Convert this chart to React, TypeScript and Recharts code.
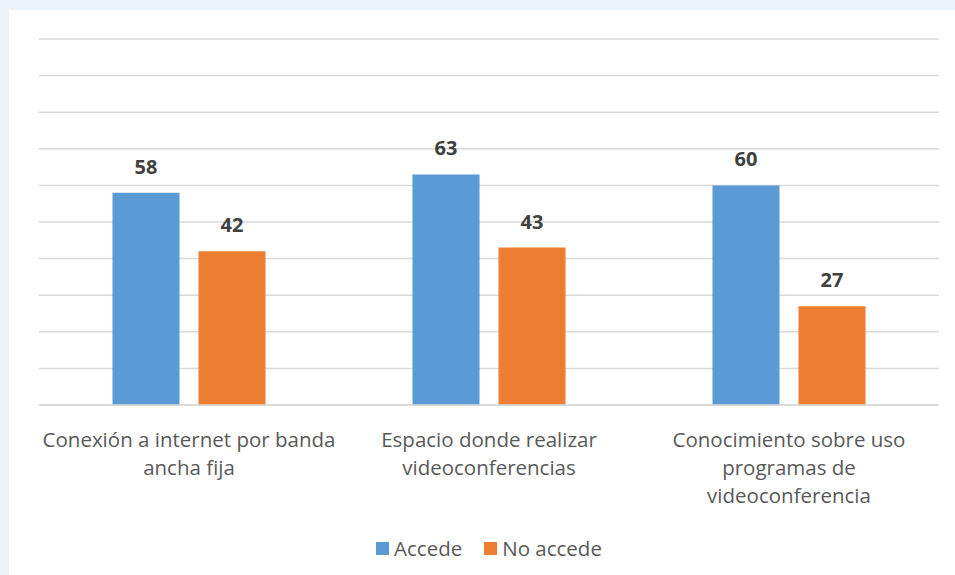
import React from "react";
import { Bar, BarChart, CartesianGrid, LabelList, Legend, XAxis, YAxis } from "recharts";

const categoryLines = [
  ["Conexión a internet por banda", "ancha fija"],
  ["Espacio donde realizar", "videoconferencias"],
  ["Conocimiento sobre uso", "programas de", "videoconferencia"],
];
const categories = categoryLines.map((l) => l.join(" "));
const accede = [58, 63, 60];
const noAccede = [42, 43, 27];
const yTicks = [0, 10, 20, 30, 40, 50, 60, 70, 80, 90, 100];

const data = categories.map((name, i) => ({
  name,
  accede: accede[i],
  noAccede: noAccede[i],
}));

const FONT = "'Open Sans', sans-serif";

function CategoryTick(props: any) {
  const { x, y, payload, index } = props;
  const lines = categoryLines[index] ?? [payload.value];
  return (
    <text x={x} y={y} textAnchor="middle" fill="#595959" fontFamily={FONT} fontSize={20.5}>
      {lines.map((line: string, i: number) => (
        <tspan key={i} x={x} dy={i === 0 ? 34 : 28}>
          {line}
        </tspan>
      ))}
    </text>
  );
}

function ChartLegend() {
  const items = [
    { label: "Accede", color: "#5b9bd5" },
    { label: "No accede", color: "#ed7d31" },
  ];
  return (
    <div style={{ display: "flex", justifyContent: "center", height: 30, alignItems: "center", fontFamily: FONT, fontSize: 20.5, color: "#595959" }}>
      {items.map((it) => (
        <span key={it.label} style={{ display: "flex", alignItems: "center", margin: "0 11px" }}>
          <span style={{ width: 13, height: 13, background: it.color, marginRight: 5, display: "inline-block" }} />
          {it.label}
        </span>
      ))}
    </div>
  );
}

export default function App() {
  return (
    <div style={{ position: "fixed", left: 0, top: 0, width: 955, height: 575, background: "#eef3fa" }}>
      <div style={{ position: "absolute", left: 9, top: 10, width: 946, height: 565, background: "#ffffff" }}>
        <BarChart
          width={946}
          height={565}
          data={data}
          margin={{ top: 29, right: 16, left: 30, bottom: 12 }}
          barCategoryGap="24.5%"
          barGap={19}
        >
          <CartesianGrid vertical={false} stroke="#d9d9d9" strokeWidth={1.5} />
          <XAxis
            dataKey="name"
            height={128}
            tickLine={false}
            axisLine={{ stroke: "#d9d9d9", strokeWidth: 1.5 }}
            tick={<CategoryTick />}
            interval={0}
          />
          <YAxis hide domain={[0, 100]} ticks={yTicks} />
          <Legend verticalAlign="bottom" height={30} content={<ChartLegend />} />
          <Bar dataKey="accede" name="Accede" fill="#5b9bd5" isAnimationActive={false}>
            <LabelList dataKey="accede" position="top" offset={19} fill="#404040" fontFamily={FONT} fontSize={20} fontWeight={700} />
          </Bar>
          <Bar dataKey="noAccede" name="No accede" fill="#ed7d31" isAnimationActive={false}>
            <LabelList dataKey="noAccede" position="top" offset={19} fill="#404040" fontFamily={FONT} fontSize={20} fontWeight={700} />
          </Bar>
        </BarChart>
      </div>
    </div>
  );
}
